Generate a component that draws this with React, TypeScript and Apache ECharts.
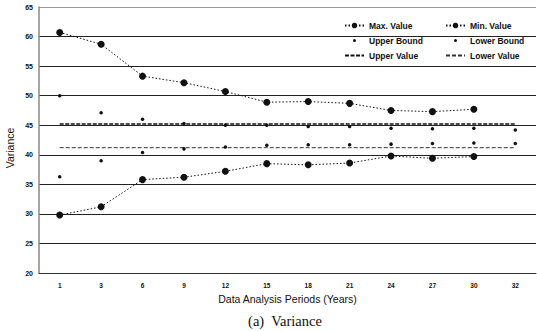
import React, { useEffect, useRef } from "react";
import * as echarts from "echarts";

const periods = ["1", "3", "6", "9", "12", "15", "18", "21", "24", "27", "30", "32"];
const maxValue = [60.7, 58.7, 53.3, 52.2, 50.7, 48.9, 49.0, 48.7, 47.5, 47.3, 47.7, null];
const minValue = [29.8, 31.2, 35.8, 36.2, 37.2, 38.5, 38.3, 38.6, 39.8, 39.4, 39.7, null];
const upperBound = [50.0, 47.1, 46.0, 45.3, 45.0, 45.0, 44.8, 44.8, 44.5, 44.4, 44.5, 44.2];
const lowerBound = [36.3, 39.0, 40.4, 41.0, 41.3, 41.6, 41.7, 41.7, 41.8, 41.9, 42.0, 41.9];
const upperValue = periods.map(() => 45.2);
const lowerValue = periods.map(() => 41.2);

const FONT = "'Liberation Sans', Arial, sans-serif";
const INK = "#111";
const DOT_ICON = "path://M0,0 L0.01,0 M19,7 L18.99,7 M8,3.5 A1.5,1.5 0 1,0 11,3.5 A1.5,1.5 0 1,0 8,3.5 Z";

export default function App() {
  const ref = useRef<HTMLDivElement>(null);
  useEffect(() => {
    if (!ref.current) return;
    const chart = echarts.init(ref.current, null, { renderer: "svg" });
    const legendText = { fontFamily: FONT, fontSize: 8.5, fontWeight: "bold" as const, color: INK };
    const legendBase = {
      orient: "vertical" as const,
      top: 16,
      itemWidth: 19,
      itemHeight: 7,
      itemGap: 6,
      textStyle: legendText,
    };
    chart.setOption({
      animation: false,
      backgroundColor: "#fff",
      grid: { left: 39, right: 1, top: 7, bottom: 58 },
      legend: [
        {
          ...legendBase,
          left: 339,
          data: [
            { name: "Max. Value" },
            { name: "Upper Bound", icon: DOT_ICON },
            { name: "Upper Value", itemStyle: { opacity: 0 } },
          ],
        },
        {
          ...legendBase,
          left: 440,
          data: [
            { name: "Min. Value" },
            { name: "Lower Bound", icon: DOT_ICON },
            { name: "Lower Value", itemStyle: { opacity: 0 } },
          ],
        },
      ],
      xAxis: {
        type: "category",
        data: periods,
        boundaryGap: true,
        axisLine: { lineStyle: { color: "#333", width: 1 } },
        axisTick: { show: false },
        axisLabel: { fontFamily: FONT, fontSize: 6.5, fontWeight: "bold", color: INK, margin: 9 },
        name: "Data Analysis Periods (Years)",
        nameLocation: "middle",
        nameGap: 20,
        nameTextStyle: { fontFamily: FONT, fontSize: 10.5, color: INK },
      },
      yAxis: {
        type: "value",
        min: 20,
        max: 65,
        interval: 5,
        axisLine: { show: true, lineStyle: { color: "#888", width: 1.5 } },
        axisTick: { show: false },
        axisLabel: { fontFamily: FONT, fontSize: 7, fontWeight: "bold", color: INK, margin: 6 },
        splitLine: {
          show: true,
          lineStyle: {
            color: ["#222", "#222", "#222", "#222", "#222", "#222", "#222", "#222", "#222", "#999"],
            width: 1.2,
          },
        },
      },
      graphic: [
        {
          type: "text",
          x: 10,
          y: 148,
          rotation: Math.PI / 2,
          style: {
            text: "Variance",
            fontFamily: FONT,
            fontSize: 10.5,
            fill: INK,
            align: "center",
            verticalAlign: "middle",
          },
        },
        {
          type: "text",
          x: 285,
          y: 321,
          style: {
            text: "(a)  Variance",
            fontFamily: "'Liberation Serif', 'DejaVu Serif', serif",
            fontSize: 14.5,
            fill: INK,
            align: "center",
            verticalAlign: "middle",
          },
        },
      ],
      series: [
        {
          name: "Max. Value",
          type: "line",
          data: maxValue,
          symbol: "circle",
          symbolSize: 7,
          itemStyle: { color: INK },
          lineStyle: { color: INK, width: 1, type: [1.5, 2] },
          z: 5,
        },
        {
          name: "Min. Value",
          type: "line",
          data: minValue,
          symbol: "circle",
          symbolSize: 7,
          itemStyle: { color: INK },
          lineStyle: { color: INK, width: 1, type: [1.5, 2] },
          z: 5,
        },
        {
          name: "Upper Bound",
          type: "scatter",
          data: upperBound,
          symbol: "circle",
          symbolSize: 3.5,
          itemStyle: { color: INK, opacity: 1 },
          z: 6,
        },
        {
          name: "Lower Bound",
          type: "scatter",
          data: lowerBound,
          symbol: "circle",
          symbolSize: 3.5,
          itemStyle: { color: INK, opacity: 1 },
          z: 6,
        },
        {
          name: "Upper Value",
          type: "line",
          data: upperValue,
          symbol: "none",
          itemStyle: { color: INK },
          lineStyle: { color: INK, width: 1.5, type: [4, 1.5] },
          z: 4,
        },
        {
          name: "Lower Value",
          type: "line",
          data: lowerValue,
          symbol: "none",
          itemStyle: { color: INK },
          lineStyle: { color: "#333", width: 1, type: [4, 2] },
          z: 4,
        },
      ],
    });
    return () => chart.dispose();
  }, []);
  return (
    <div
      ref={ref}
      style={{ position: "fixed", left: 0, top: 0, width: 537, height: 331, background: "#fff" }}
    />
  );
}
